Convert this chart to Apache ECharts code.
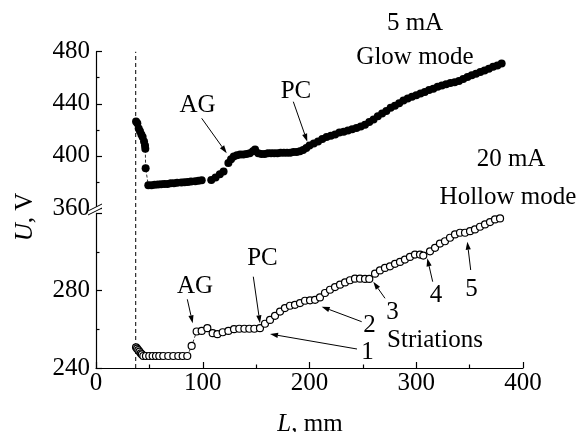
<!DOCTYPE html>
<html>
<head>
<meta charset="utf-8">
<script src="https://cdn.jsdelivr.net/npm/echarts@6/dist/echarts.min.js"></script>
<style>html,body{margin:0;padding:0;background:#fff;}#c{width:578px;height:432px;}</style>
</head>
<body>
<div id="c"></div>
<script>
// ---- data ----
const glowL = [37.5,38.7,40,41.2,42.5,43.7,45,45.9,46.2,46.5,49,52,55,58,61,64,67,70,73,76,80,83,86,89,93,96,99,
  108,112,116,119.5,124,126.5,129,132,135,138,141,144,147,149,152,155,158,161,164,167,170,173,176,179,182,185,188,191,194,197,
  200,204,208,212,216,220,224,228,232,236,240,244,248,252,256,260,264,268,272,276,280,284,288,292,296,300,304,308,312,316,320,324,328,332,336,340,344,348,352,356,360,364,368,372,376,380];
const glowU = [426.5,425,421,419,416.5,414.5,411,408,405.5,390.5,377.5,377.5,377.8,378,378.2,378.5,378.5,379,379,379.3,379.6,379.8,380,380.3,380.6,381,381.3,
  381.5,383.5,386,388,394.5,397.5,399.5,400.5,401,401,401.5,402,403.5,405,402,401.5,401.5,402,402,402,402,402.5,402.5,402.5,402.5,403,403,403.5,404.5,406,
  408,409.5,411,413,414.5,415.5,416.5,418,418.5,419.5,420.5,421.5,422.5,424,426,428,430.5,432.5,434.5,437,438.5,440.5,442.5,444,445.5,446.5,448,449,450.5,451.5,453,454,455,456,456.5,457.5,459,460.5,462,463,464.5,465.5,467,468.5,469.5,471];
const hollowL = [37.5,38.5,39.6,40.7,41.9,43,44.3,46.8,49.9,53.1,56.2,59.3,63,67.7,72.4,77.1,81.2,85.5,89.6,94.3,99,104.3,109.3,113.7,118.7,124,129.3,134.2,139,143.6,148.3,153.6,
  158.3,163,167.7,172.4,177,181.7,186.4,191.1,195.8,200.5,205.2,209.8,214.5,219.2,223.9,228.6,233.3,237.9,242.6,247.3,252,256,261.4,266,270.7,275.4,280.1,284.8,289.4,294.1,298.8,303.5,306.6,
  312.9,317.6,322.2,326.9,331.6,336.3,341,345.7,350.4,355,359.7,364.4,369.1,373.8,378.5];
const hollowU = [250.7,250,249.3,248.5,247.6,247,246.2,246.2,246.2,246.2,246.2,246.2,246.2,246.2,246.2,246.2,246.2,246.2,251.4,258.9,259.2,260.6,258,257.5,258.5,259.2,260.1,260.3,260.3,260.3,260.3,260.6,
  262.9,264.9,267,269.2,271,272.2,272.7,273.6,274.8,275,275.3,276.5,278.8,280.5,281.9,283.1,284.3,285.4,286.2,286.2,286.1,286.1,288.8,290.5,291.8,292.6,293.9,294.9,296.1,297.5,298.7,298.7,298.2,
  300.4,302.2,304.4,305.6,307.4,309.1,310,310,310.8,311.7,313.1,314.3,315.5,316.9,317.4];
const cathodeL = 37.2;
const xTicks = [0,100,200,300,400];
const yUpperTicks = [360,400,440,480];
const yLowerTicks = [240,280];

const FONT = "'Liberation Serif','Times New Roman',serif";
const chart = echarts.init(document.getElementById('c'), null, {renderer:'canvas'});

const axisLineStyle = {show:true, lineStyle:{color:'#000', width:1.2}};
const lbl = (vals, extra) => Object.assign({
  fontFamily: FONT, fontSize: 25, color:'#000',
  formatter: v => vals.indexOf(v) >= 0 ? String(v) : ''
}, extra||{});

function arrow(x1,y1,x2,y2){
  const ang = Math.atan2(y2-y1, x2-x1), len = 8, hw = 2.6;
  const bx = x2 - len*Math.cos(ang), by = y2 - len*Math.sin(ang);
  const px = -Math.sin(ang)*hw, py = Math.cos(ang)*hw;
  return [
    {type:'line', shape:{x1:x1,y1:y1,x2:bx,y2:by}, style:{stroke:'#000', lineWidth:1}, silent:true},
    {type:'polygon', shape:{points:[[x2,y2],[bx+px,by+py],[bx-px,by-py]]}, style:{fill:'#000'}, silent:true}
  ];
}
function txt(s, x, y, rich){
  return {type:'text', x:x, y:y, silent:true, style:{text:s, font:'25px '+FONT, fill:'#000', align:'center', verticalAlign:'middle', rich: rich}};
}

const graphics = [].concat(
  [txt('5 mA', 415, 23), txt('Glow mode', 415, 57), txt('20 mA', 511, 159), txt('Hollow mode', 508, 197),
   txt('AG', 197.5, 105), txt('PC', 296, 91), txt('AG', 195, 286), txt('PC', 262.5, 258),
   txt('1', 367.5, 352), txt('2', 369.5, 325), txt('3', 392.5, 312), txt('4', 436, 295), txt('5', 471.5, 289),
   txt('Striations', 435, 340)],
  arrow(201.7,118.3,226.7,153.3), arrow(293.3,101.7,307.3,141.7),
  arrow(187.3,299.3,192.7,323.3), arrow(253.3,276.7,260,323.3),
  arrow(357,349,270,334), arrow(361.7,321.7,321.7,306.7), arrow(385,298.3,373.3,281.7),
  arrow(432.7,281.7,427.3,258.3), arrow(470.7,270,467.3,241.7),
  [
    {type:'text', x:25, y:217, rotation:Math.PI/2, silent:true,
     style:{text:'{i|U}, V', font:'25px '+FONT, fill:'#000', align:'center', verticalAlign:'middle',
       rich:{i:{fontStyle:'italic', fontFamily:FONT, fontSize:25}}}},
    {type:'text', x:310, y:424, silent:true,
     style:{text:'{i|L}, mm', font:'25px '+FONT, fill:'#000', align:'center', verticalAlign:'middle',
       rich:{i:{fontStyle:'italic', fontFamily:FONT, fontSize:25}}}},
    {type:'polygon', shape:{points:[[88,211],[102,204],[102,208],[88,215]]}, style:{fill:'#fff'}, silent:true, z:100},
    {type:'line', shape:{x1:88,y1:211,x2:102,y2:204}, style:{stroke:'#000', lineWidth:1}, silent:true, z:101},
    {type:'line', shape:{x1:88,y1:215,x2:102,y2:208}, style:{stroke:'#000', lineWidth:1}, silent:true, z:101}
  ]
);

const option = {
  animation:false,
  backgroundColor:'#fff',
  grid:[
    {left:96, right:55, top:51.7, bottom:224, containLabel:false, outerBoundsMode:'none'},
    {left:96, right:55, top:213.4, bottom:64, containLabel:false, outerBoundsMode:'none'},
    {left:96, right:55, top:51.7, bottom:64, containLabel:false, outerBoundsMode:'none'}
  ],
  xAxis:[
    {gridIndex:0, type:'value', min:0, max:400, show:false},
    {gridIndex:1, type:'value', min:0, max:400, interval:100,
     axisLine:axisLineStyle,
     axisTick:{show:true, inside:true, length:6, lineStyle:{color:'#000', width:1.2}},
     minorTick:{show:true, splitNumber:2, length:3.5, lineStyle:{color:'#000', width:1.2}},
     splitLine:{show:false}, minorSplitLine:{show:false},
     axisLabel:lbl(xTicks, {margin:3})},
    {gridIndex:2, type:'value', min:0, max:400, show:false}
  ],
  yAxis:[
    {gridIndex:0, type:'value', min:360, max:480, interval:40,
     axisLine:axisLineStyle,
     axisTick:{show:true, inside:true, length:6, lineStyle:{color:'#000', width:1.2}},
     minorTick:{show:true, splitNumber:2, length:3.5, lineStyle:{color:'#000', width:1.2}},
     splitLine:{show:false}, minorSplitLine:{show:false},
     axisLabel:lbl(yUpperTicks, {margin:6})},
    {gridIndex:1, type:'value', min:240, max:320, interval:40,
     axisLine:axisLineStyle,
     axisTick:{show:true, inside:true, length:6, lineStyle:{color:'#000', width:1.2}},
     minorTick:{show:true, splitNumber:2, length:3.5, lineStyle:{color:'#000', width:1.2}},
     splitLine:{show:false}, minorSplitLine:{show:false},
     axisLabel:lbl(yLowerTicks, {margin:6})},
    {gridIndex:2, type:'value', min:0, max:1, show:false}
  ],
  series:[
    {type:'line', xAxisIndex:2, yAxisIndex:2, data:[[cathodeL,0],[cathodeL,1]], showSymbol:false, silent:true,
     lineStyle:{color:'#000', width:1, type:[4,3]}, z:1},
    {type:'line', xAxisIndex:0, yAxisIndex:0, data:glowL.map((l,i)=>[l, glowU[i]]),
     symbol:'circle', symbolSize:8, showSymbol:true, showAllSymbol:true,
     itemStyle:{color:'#000'}, lineStyle:{color:'#000', width:0.8, type:[3,2]}, z:3},
    {type:'line', xAxisIndex:1, yAxisIndex:1, data:hollowL.map((l,i)=>[l, hollowU[i]]),
     symbol:'circle', symbolSize:7, showSymbol:true, showAllSymbol:true,
     itemStyle:{color:'#fff', borderColor:'#000', borderWidth:1.2}, lineStyle:{color:'#000', width:0.8, type:[3,2]}, z:3}
  ],
  graphic:graphics
};
chart.setOption(option);
</script>
</body>
</html>
